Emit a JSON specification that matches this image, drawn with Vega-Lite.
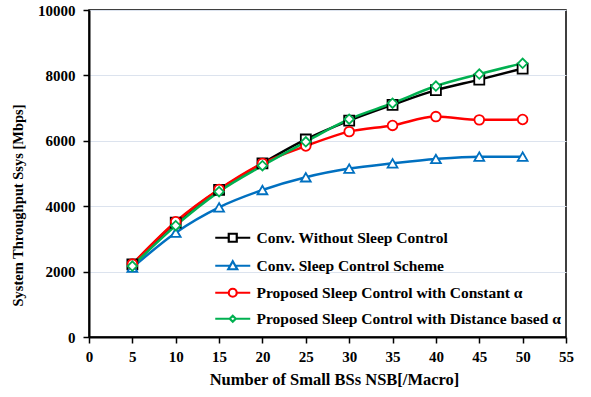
{
  "$schema": "https://vega.github.io/schema/vega-lite/v6.json",
  "width": 477,
  "height": 327,
  "autosize": "none",
  "padding": {"left": 89, "top": 10, "right": 25, "bottom": 60},
  "config": {
    "view": {"stroke": "black", "strokeWidth": 1.5},
    "font": "Liberation Serif"
  },
  "data": {
    "values": [
      {"n": 5, "series": "Conv. Without Sleep Control", "marker": "square", "v": 2220},
      {"n": 10, "series": "Conv. Without Sleep Control", "marker": "square", "v": 3500},
      {"n": 15, "series": "Conv. Without Sleep Control", "marker": "square", "v": 4500},
      {"n": 20, "series": "Conv. Without Sleep Control", "marker": "square", "v": 5310},
      {"n": 25, "series": "Conv. Without Sleep Control", "marker": "square", "v": 6040},
      {"n": 30, "series": "Conv. Without Sleep Control", "marker": "square", "v": 6615},
      {"n": 35, "series": "Conv. Without Sleep Control", "marker": "square", "v": 7100},
      {"n": 40, "series": "Conv. Without Sleep Control", "marker": "square", "v": 7550},
      {"n": 45, "series": "Conv. Without Sleep Control", "marker": "square", "v": 7870},
      {"n": 50, "series": "Conv. Without Sleep Control", "marker": "square", "v": 8210},
      {"n": 5, "series": "Conv. Sleep Control Scheme", "marker": "triangle", "v": 2120},
      {"n": 10, "series": "Conv. Sleep Control Scheme", "marker": "triangle", "v": 3190},
      {"n": 15, "series": "Conv. Sleep Control Scheme", "marker": "triangle", "v": 3965},
      {"n": 20, "series": "Conv. Sleep Control Scheme", "marker": "triangle", "v": 4495},
      {"n": 25, "series": "Conv. Sleep Control Scheme", "marker": "triangle", "v": 4885},
      {"n": 30, "series": "Conv. Sleep Control Scheme", "marker": "triangle", "v": 5150},
      {"n": 35, "series": "Conv. Sleep Control Scheme", "marker": "triangle", "v": 5310},
      {"n": 40, "series": "Conv. Sleep Control Scheme", "marker": "triangle", "v": 5445},
      {"n": 45, "series": "Conv. Sleep Control Scheme", "marker": "triangle", "v": 5515},
      {"n": 50, "series": "Conv. Sleep Control Scheme", "marker": "triangle", "v": 5515},
      {"n": 5, "series": "Proposed Sleep Control with Constant α", "marker": "circle", "v": 2230},
      {"n": 10, "series": "Proposed Sleep Control with Constant α", "marker": "circle", "v": 3525},
      {"n": 15, "series": "Proposed Sleep Control with Constant α", "marker": "circle", "v": 4515},
      {"n": 20, "series": "Proposed Sleep Control with Constant α", "marker": "circle", "v": 5310},
      {"n": 25, "series": "Proposed Sleep Control with Constant α", "marker": "circle", "v": 5840},
      {"n": 30, "series": "Proposed Sleep Control with Constant α", "marker": "circle", "v": 6280},
      {"n": 35, "series": "Proposed Sleep Control with Constant α", "marker": "circle", "v": 6470},
      {"n": 40, "series": "Proposed Sleep Control with Constant α", "marker": "circle", "v": 6740},
      {"n": 45, "series": "Proposed Sleep Control with Constant α", "marker": "circle", "v": 6640},
      {"n": 50, "series": "Proposed Sleep Control with Constant α", "marker": "circle", "v": 6650},
      {"n": 5, "series": "Proposed Sleep Control with Distance based α", "marker": "diamond", "v": 2170},
      {"n": 10, "series": "Proposed Sleep Control with Distance based α", "marker": "diamond", "v": 3405},
      {"n": 15, "series": "Proposed Sleep Control with Distance based α", "marker": "diamond", "v": 4445},
      {"n": 20, "series": "Proposed Sleep Control with Distance based α", "marker": "diamond", "v": 5240},
      {"n": 25, "series": "Proposed Sleep Control with Distance based α", "marker": "diamond", "v": 5970},
      {"n": 30, "series": "Proposed Sleep Control with Distance based α", "marker": "diamond", "v": 6660},
      {"n": 35, "series": "Proposed Sleep Control with Distance based α", "marker": "diamond", "v": 7150},
      {"n": 40, "series": "Proposed Sleep Control with Distance based α", "marker": "diamond", "v": 7675},
      {"n": 45, "series": "Proposed Sleep Control with Distance based α", "marker": "diamond", "v": 8040},
      {"n": 50, "series": "Proposed Sleep Control with Distance based α", "marker": "diamond", "v": 8370}
    ]
  },
  "encoding": {
    "x": {
      "field": "n",
      "type": "quantitative",
      "scale": {"domain": [0, 55], "nice": false},
      "axis": {
        "values": [0, 5, 10, 15, 20, 25, 30, 35, 40, 45, 50, 55],
        "title": "Number of Small BSs NSB[/Macro]",
        "titleFont": "Liberation Serif",
        "titleFontSize": 16.5,
        "titleFontWeight": "bold",
        "titleColor": "black",
        "titlePadding": 7,
        "titleX": 245,
        "labelFont": "Liberation Serif",
        "labelFontSize": 15,
        "labelFontWeight": "bold",
        "labelColor": "black",
        "labelPadding": 6,
        "labelFlush": false,
        "grid": false,
        "domainColor": "black",
        "domainWidth": 2,
        "tickColor": "black",
        "tickWidth": 1.5,
        "tickSize": 6
      }
    },
    "y": {
      "field": "v",
      "type": "quantitative",
      "scale": {"domain": [0, 10000], "nice": false},
      "axis": {
        "values": [0, 2000, 4000, 6000, 8000, 10000],
        "title": "System Throughput Ssys [Mbps]",
        "titleFont": "Liberation Serif",
        "titleFontSize": 14.5,
        "titleFontWeight": "bold",
        "titleColor": "black",
        "titlePadding": 12,
        "titleY": 195,
        "labelFont": "Liberation Serif",
        "labelFontSize": 15,
        "labelFontWeight": "bold",
        "labelColor": "black",
        "labelPadding": 8,
        "labelFlush": false,
        "grid": true,
        "gridColor": "#DCE3EE",
        "gridWidth": 1,
        "domainColor": "black",
        "domainWidth": 2,
        "tickColor": "black",
        "tickWidth": 1.5,
        "tickSize": 6,
        "format": "d"
      }
    },
    "color": {
      "field": "series",
      "type": "nominal",
      "scale": {
        "domain": ["Conv. Without Sleep Control", "Conv. Sleep Control Scheme", "Proposed Sleep Control with Constant α", "Proposed Sleep Control with Distance based α"],
        "range": ["#000000", "#0070C0", "#FF0000", "#00B050"]
      },
      "legend": {
        "orient": "none",
        "legendX": 136,
        "legendY": 220,
        "title": null,
        "padding": 0,
        "symbolSize": 100,
        "symbolStrokeWidth": 2,
        "labelOffset": 16,
        "labelFont": "Liberation Serif",
        "labelFontSize": 15.5,
        "labelFontWeight": "bold",
        "labelColor": "black",
        "labelLimit": 400,
        "rowPadding": 9,
        "encode": {
          "symbols": {
            "update": {
              "shape": {"signal": "['M-3.5,0H-0.8M0.8,0H3.5M-0.8,-0.8H0.8V0.8H-0.8Z', 'M-3.5,0H-0.5M0.5,0H3.5M0,-0.9L0.9,0.7H-0.9Z', 'M-3.5,0H-0.8M0.8,0H3.5M-0.8,0A0.8,0.8 0 1,0 0.8,0A0.8,0.8 0 1,0 -0.8,0Z', 'M-3.5,0H-0.6M0.6,0H3.5M0,-0.6L0.6,0L0,0.6L-0.6,0Z'][indexof(['Conv. Without Sleep Control', 'Conv. Sleep Control Scheme', 'Proposed Sleep Control with Constant α', 'Proposed Sleep Control with Distance based α'], datum.value)]"},
              "fill": {"value": "white"},
              "fillOpacity": {"value": 1},
              "strokeWidth": {"value": 2.2},
              "opacity": {"value": 1}
            }
          }
        }
      }
    }
  },
  "layer": [
    {
      "mark": {"type": "line", "interpolate": "monotone", "strokeWidth": 2.5}
    },
    {
      "mark": {"type": "point", "filled": false, "fill": "white", "fillOpacity": 1, "opacity": 1, "strokeWidth": 1.8},
      "encoding": {
        "shape": {
          "field": "marker",
          "type": "nominal",
          "scale": {
            "domain": ["square", "triangle", "circle", "diamond"],
            "range": ["square", "triangle-up", "circle", "diamond"]
          },
          "legend": null
        },
        "size": {
          "field": "marker",
          "type": "ordinal",
          "scale": {
            "domain": ["square", "triangle", "circle", "diamond"],
            "range": [100, 90, 85, 45]
          },
          "legend": null
        }
      }
    }
  ]
}
